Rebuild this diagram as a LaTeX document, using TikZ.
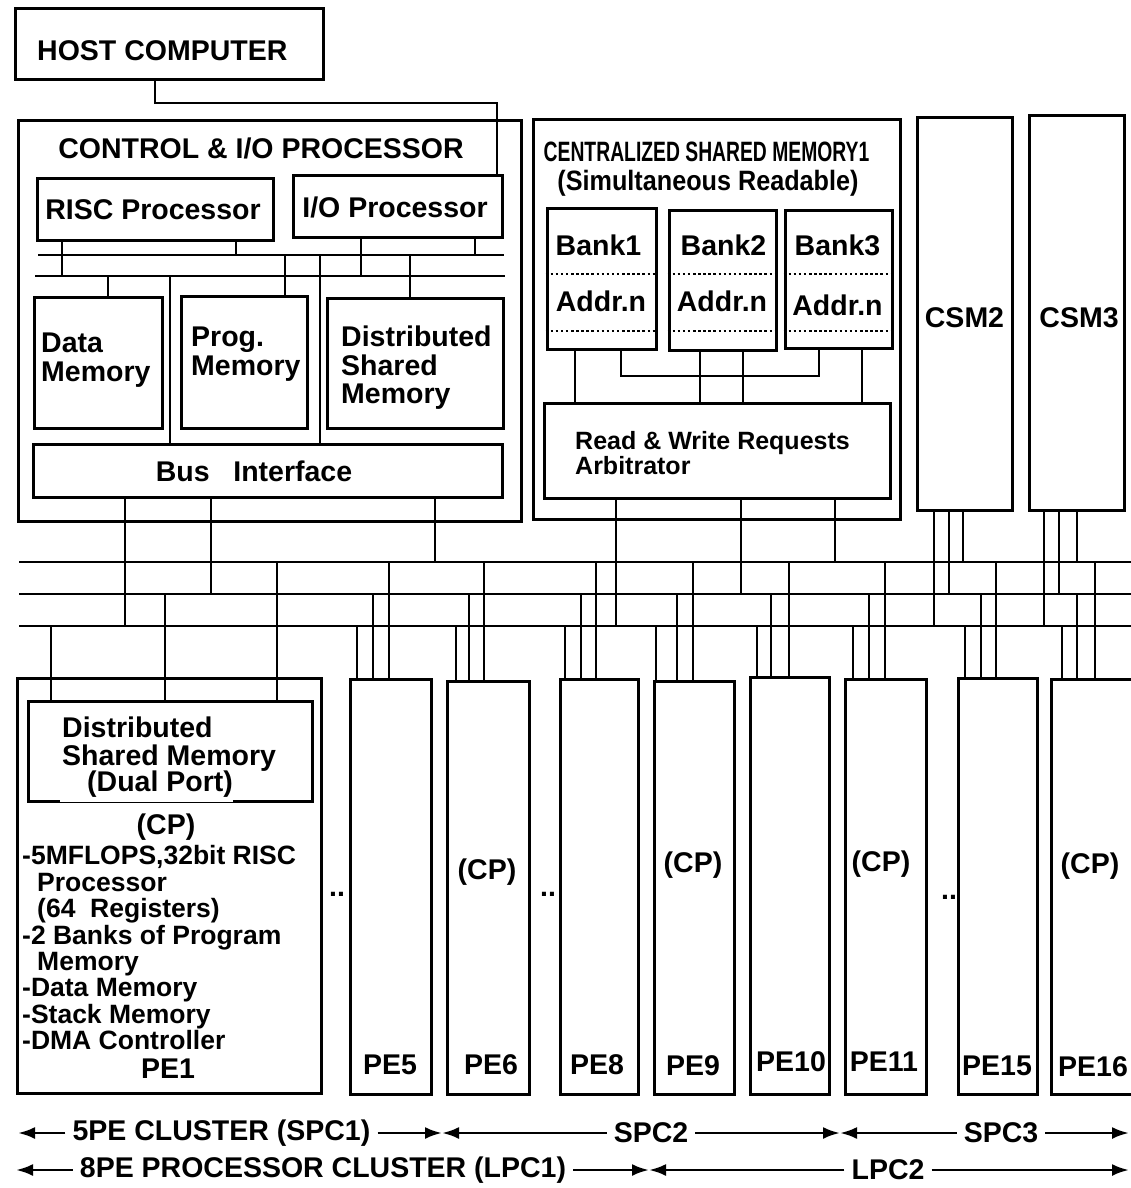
\documentclass[tikz,border=0pt]{standalone}
\usepackage{fontspec}
\setmainfont{Liberation Sans}
\newfontfamily\narrowfont[FakeStretch=0.69]{Liberation Sans}
\newfontfamily\semifont[FakeStretch=0.9]{Liberation Sans}
\usetikzlibrary{positioning,fit,calc,arrows.meta}

\begin{document}
\begin{tikzpicture}[x=1pt, y=-1pt,
    box/.style={rectangle, draw, line width=3pt, inner sep=0pt},
    lbl/.style={inner sep=0pt, align=left, font=\bfseries\fontsize{28.5}{29}\selectfont},
    lbllist/.style={inner sep=0pt, align=left, font=\bfseries\fontsize{26.5}{26.4}\selectfont},
    wire/.style={line width=2.8pt},
    divider/.style={line width=2.5pt, dash pattern=on 2.5pt off 2.6pt},
    cluster/.style={inner sep=0pt, inner xsep=7pt, font=\bfseries\fontsize{28.5}{29}\selectfont},
    extent/.style={line width=2.8pt, -{Latex[length=17pt,width=12pt]}}
]
\useasboundingbox (0,0) rectangle (1131,1188);
\clip (0,0) rectangle (1131,1188);

% Host computer
\node [box, fit={(15,9) (323,80)}] (host) {};
\node [lbl, anchor=west] (hosttxt) at (37,50.5) {HOST COMPUTER};

% Control & I/O processor
\node [box, fit={(18,121) (521,521)}] (ctrl) {};
\node [lbl] (ctrltitle) at (261,148) {CONTROL \& I/O PROCESSOR};
\node [box, fit={(37,178) (273,240)}] (risc) {};
\node [lbl] (risctxt) at (153,210) {RISC Processor};
\node [box, fit={(293,175) (502,237)}] (iop) {};
\node [lbl] (ioptxt) at (395,207.5) {I/O Processor};

\node [box, fit={(34,297) (162,428)}] (dmem) {};
\node [lbl, anchor=north west] (dmemtxt) at (41,333) {Data\\Memory};
\node [box, fit={(181,296) (307,428)}] (pmem) {};
\node [lbl, anchor=north west] (pmemtxt) at (191,327) {Prog.\\Memory};
\node [box, fit={(327,298) (503,428)}] (dsm) {};
\node [lbl, anchor=north west, font=\bfseries\fontsize{28.5}{28.3}\selectfont] (dsmtxt) at (341,326) {Distributed\\Shared\\Memory};

\node [box, fit={(33,444) (502,497)}] (bif) {};
\node [lbl] (biftxt) at (254,471) {Bus\ \ \ Interface};

% Internal buses
\coordinate (cbusA) at (38,255);
\coordinate (cbusB) at (35,276);
\draw [wire] (cbusA) -- (cbusA -| iop.east);
\draw [wire] (cbusB) -- (cbusB -| dsm.east);

\draw [wire] (62,0 |- risc.south) -- (62,0 |- cbusB);
\draw [wire] (236,0 |- risc.south) -- (236,0 |- cbusA);
\draw [wire] (361,0 |- iop.south) -- (361,0 |- cbusB);
\draw [wire] (475,0 |- iop.south) -- (475,0 |- cbusA);
\draw [wire] (108,0 |- cbusB) -- (108,0 |- dmem.north);
\draw [wire] (170,0 |- cbusB) -- (170,0 |- bif.north);
\draw [wire] (285,0 |- cbusA) -- (285,0 |- pmem.north);
\draw [wire] (320,0 |- cbusA) -- (320,0 |- bif.north);
\draw [wire] (410,0 |- cbusA) -- (410,0 |- dsm.north);

% Host link
\draw [wire] (155,0 |- host.south) |- (497,103) -- (497,0 |- iop.north);

% Centralized shared memory
\node [box, fit={(533,120) (900,519)}] (csm1) {};
\node [lbl, font=\narrowfont\bfseries\fontsize{28}{29}\selectfont] (csm1title) at (706.5,151.7) {CENTRALIZED SHARED MEMORY1};
\node [lbl, font=\semifont\bfseries\fontsize{28}{29}\selectfont] (csm1sub) at (708,183) {(Simultaneous Readable)};

\node [box, fit={(547,208) (656,349)}] (bank1) {};
\node [box, fit={(669,210) (776,350)}] (bank2) {};
\node [box, fit={(785,210) (892,348)}] (bank3) {};
\foreach \n/\bx/\ax/\ay in {1/598.5/601/301, 2/723.5/722/301, 3/837.5/837.5/305} {
  \node [lbl] (banktxt\n) at (\bx,245) {Bank\n};
  \node [lbl] (addr\n) at (\ax,\ay) {Addr.n};
  \draw [divider] (bank\n.west |- 0,274) -- (bank\n.east |- 0,274);
  \draw [divider] (bank\n.west |- 0,331) -- (bank\n.east |- 0,331);
}

\node [box, fit={(544,403) (890,498)}] (arb) {};
\node [lbl, anchor=west, font=\bfseries\fontsize{25}{25}\selectfont] (arbtxt) at (575,453.5) {Read \& Write Requests\\Arbitrator};

\draw [wire] (575,0 |- bank1.south) -- (575,0 |- arb.north);
\draw [wire] (621,0 |- bank1.south) |- (819,376) -- (819,0 |- bank3.south);
\draw [wire] (700,0 |- bank2.south) -- (700,0 |- arb.north);
\draw [wire] (743,0 |- bank2.south) -- (743,0 |- arb.north);
\draw [wire] (862,0 |- bank3.south) -- (862,0 |- arb.north);

% CSM2 and CSM3
\node [box, fit={(917,118) (1012,510)}] (csm2) {};
\node [lbl] (csm2txt) at (csm2.center |- 0,318) {CSM2};
\node [box, fit={(1029,116) (1124,510)}] (csm3) {};
\node [lbl] (csm3txt) at (1079,318) {CSM3};

% Global buses
\coordinate (gbus1) at (19,562);
\coordinate (gbus2) at (19,594);
\coordinate (gbus3) at (19,626);
\draw [wire] (gbus1) -- (gbus1 -| 1131,0);
\draw [wire] (gbus2) -- (gbus2 -| 1131,0);
\draw [wire] (gbus3) -- (gbus3 -| 1131,0);

\draw [wire] (125,0 |- bif.south) -- (125,0 |- gbus3);
\draw [wire] (211,0 |- bif.south) -- (211,0 |- gbus2);
\draw [wire] (435,0 |- bif.south) -- (435,0 |- gbus1);

\draw [wire] (616,0 |- arb.south) -- (616,0 |- gbus3);
\draw [wire] (741,0 |- arb.south) -- (741,0 |- gbus2);
\draw [wire] (835,0 |- arb.south) -- (835,0 |- gbus1);

\draw [wire] (934,0 |- csm2.south) -- (934,0 |- gbus3);
\draw [wire] (949,0 |- csm2.south) -- (949,0 |- gbus2);
\draw [wire] (963,0 |- csm2.south) -- (963,0 |- gbus1);
\draw [wire] (1044,0 |- csm3.south) -- (1044,0 |- gbus3);
\draw [wire] (1059,0 |- csm3.south) -- (1059,0 |- gbus2);
\draw [wire] (1077,0 |- csm3.south) -- (1077,0 |- gbus1);

% PE1
\node [box, fit={(17,678) (321,1093)}] (pe1) {};
\node [box, fit={(28,701) (312,801)}] (pe1dsm) {};
\node [lbl, anchor=north west, font=\bfseries\fontsize{28.5}{27.5}\selectfont] (pe1dsmtxt) at (62,717) {Distributed\\Shared Memory};
\node [lbl, anchor=west, inner ysep=5pt, fill=white] (dualport) at (60,784) {\hspace*{27pt}(Dual Port)};
\draw [wire] (51,0 |- gbus3) -- (51,0 |- pe1dsm.north);
\draw [wire] (165,0 |- gbus2) -- (165,0 |- pe1dsm.north);
\draw [wire] (277,0 |- gbus1) -- (277,0 |- pe1dsm.north);

\node [lbl] (pe1cp) at (166,827) {(CP)};
\node [lbllist, anchor=north west] (pe1list) at (22,845.5) {-5MFLOPS,32bit RISC\\
  \hspace*{15pt}Processor\\
  \hspace*{15pt}(64\ \ Registers)\\
  -2 Banks of Program\\
  \hspace*{15pt}Memory\\
  -Data Memory\\
  -Stack Memory\\
  -DMA Controller};
\node [lbl] (pe1txt) at (168,1069) {PE1};

% Other PEs
\foreach \n/\l/\r/\t/\lx/\ly in {5/350/431/679/390/1065, 6/447/529/681/491/1065, 8/560/638/679/597/1065,
    9/654/734/681/693/1066, 10/750/829/677/791/1062, 11/845/926/679/884/1062,
    15/958/1037/678/997/1066, 16/1051/1145/679/1093/1067} {
  \node [box, fit={(\l,\t) (\r,1094)}] (pe\n) {};
  \node [lbl] (pe\n txt) at (\lx,\ly) {PE\n};
}

\foreach \n/\a/\b/\c in {5/357/373/389, 6/456/469/484, 8/565/581/596, 9/656/677/693,
    10/757/771/789, 11/853/869/885, 15/965/981/996, 16/1062/1077/1095} {
  \draw [wire] (\a,0 |- gbus3) -- (\a,0 |- pe\n.north);
  \draw [wire] (\b,0 |- gbus2) -- (\b,0 |- pe\n.north);
  \draw [wire] (\c,0 |- gbus1) -- (\c,0 |- pe\n.north);
}

\node [lbl] (pe6cp) at (487,872) {(CP)};
\node [lbl] (pe9cp) at (693,865) {(CP)};
\node [lbl] (pe11cp) at (881,864) {(CP)};
\node [lbl] (pe16cp) at (1090,866) {(CP)};

\node [lbl, anchor=base] (gap1) at (337,896) {..};
\node [lbl, anchor=base] (gap2) at (548,896) {..};
\node [lbl, anchor=base] (gap3) at (949,899) {..};

% Cluster spans
\coordinate (s0) at (18,1133);
\coordinate (s1) at (442,1133);
\coordinate (s2) at (840,1133);
\coordinate (s3) at (1129,1133);
\node [cluster] (spc1) at (221.5,1133) {5PE CLUSTER (SPC1)};
\node [cluster] (spc2) at (651,1133) {SPC2};
\node [cluster] (spc3) at (1001,1133) {SPC3};
\draw [extent] (spc1) -- (s0);
\draw [extent] (spc1) -- (s1);
\draw [extent] (spc2) -- (s1);
\draw [extent] (spc2) -- (s2);
\draw [extent] (spc3) -- (s2);
\draw [extent] (spc3) -- (s3);

\coordinate (l0) at (16,1170);
\coordinate (l1) at (649,1170);
\coordinate (l2) at (1129,1170);
\node [cluster] (lpc1) at (323,1170) {8PE PROCESSOR CLUSTER (LPC1)};
\node [cluster] (lpc2) at (888,1170) {LPC2};
\draw [extent] (lpc1) -- (l0);
\draw [extent] (lpc1) -- (l1);
\draw [extent] (lpc2) -- (l1);
\draw [extent] (lpc2) -- (l2);

\end{tikzpicture}
\end{document}
